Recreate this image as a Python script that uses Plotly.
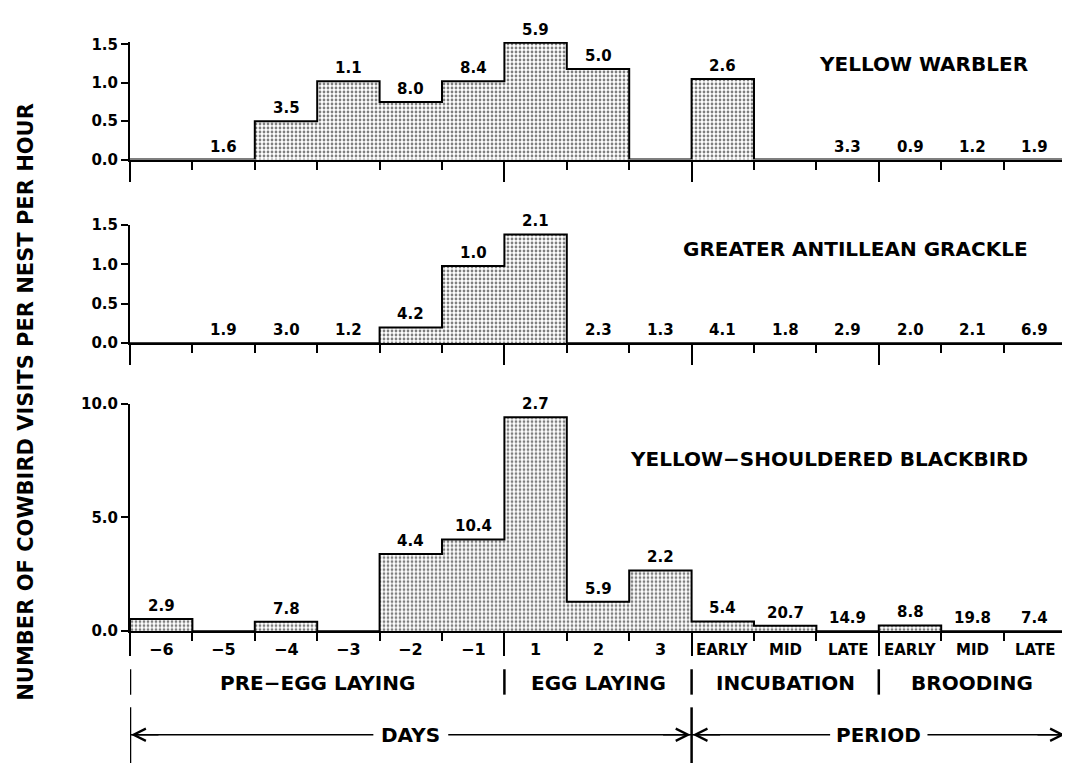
import plotly.graph_objects as go

# ---------------- data ----------------
day_labels = ["\u22126", "\u22125", "\u22124", "\u22123", "\u22122", "\u22121", "1", "2", "3",
              "EARLY", "MID", "LATE", "EARLY", "MID", "LATE"]
phase_labels = ["PRE\u2212EGG LAYING", "EGG LAYING", "INCUBATION", "BROODING"]
phase_bounds = [-0.5, 5.5, 8.5, 11.5, 14.5]
bracket_labels = ["DAYS", "PERIOD"]
bracket_bounds = [-0.5, 8.5, 14.5]

species = ["YELLOW WARBLER", "GREATER ANTILLEAN GRACKLE", "YELLOW\u2212SHOULDERED BLACKBIRD"]

warbler_rate = [0, 0, 0.50, 1.02, 0.75, 1.02, 1.52, 1.18, 0, 1.05, 0, 0, 0, 0, 0]
warbler_hours = ["", "1.6", "3.5", "1.1", "8.0", "8.4", "5.9", "5.0", "", "2.6", "", "3.3", "0.9", "1.2", "1.9"]

grackle_rate = [0, 0, 0, 0, 0.20, 0.98, 1.38, 0, 0, 0, 0, 0, 0, 0, 0]
grackle_hours = ["", "1.9", "3.0", "1.2", "4.2", "1.0", "2.1", "2.3", "1.3", "4.1", "1.8", "2.9", "2.0", "2.1", "6.9"]

blackbird_rate = [0.53, 0, 0.42, 0, 3.39, 4.03, 9.4, 1.29, 2.67, 0.43, 0.24, 0, 0.25, 0, 0]
blackbird_hours = ["2.9", "", "7.8", "", "4.4", "10.4", "2.7", "5.9", "2.2", "5.4", "20.7", "14.9", "8.8", "19.8", "7.4"]

y_ticks_small = [0, 0.5, 1.0, 1.5]
y_ticks_big = [0, 5, 10]

# ---------------- layout geometry ----------------
W, H = 1070, 764
FONT = "DejaVu Sans"
def py(p):  # pixel y -> paper
    return (H - p) / H

xdom = [122 / W, 1058 / W]
panels = [
    dict(rate=warbler_rate, hours=warbler_hours, dom=[py(146), py(146 - 1.53 * 78.7)],
         rng=[0, 1.53], ticks=y_ticks_small, fmt="{:.1f}", majlen=20, title_y=48),
    dict(rate=grackle_rate, hours=grackle_hours, dom=[py(334), py(213)],
         rng=[0, 1.5], ticks=y_ticks_small, fmt="{:.1f}", majlen=20, title_y=238),
    dict(rate=blackbird_rate, hours=blackbird_hours, dom=[py(629), py(396)],
         rng=[0, 10], ticks=y_ticks_big, fmt="{:.1f}", majlen=23, title_y=453),
]

fig = go.Figure()
annotations = []
shapes = []
n = len(day_labels)
xs = list(range(n))

for k, p in enumerate(panels):
    sfx = "" if k == 0 else str(k + 1)
    xa, ya = "x" + sfx, "y" + sfx
    fig.add_trace(go.Bar(
        x=xs, y=p["rate"], width=1, xaxis=xa, yaxis=ya,
        marker=dict(color="white",
                    pattern=dict(shape=".", fgcolor="black", bgcolor="white", size=4, solidity=0.38),
                    line=dict(width=0)),
        hoverinfo="skip", showlegend=False))
    # step outline from the data
    sx, sy = [-0.5], [0]
    for i, v in enumerate(p["rate"]):
        sx += [i - 0.5, i + 0.5]
        sy += [v, v]
    sx.append(n - 0.5)
    sy.append(0)
    fig.add_trace(go.Scatter(x=sx, y=sy, mode="lines", xaxis=xa, yaxis=ya,
                             line=dict(color="black", width=2), cliponaxis=False,
                             hoverinfo="skip", showlegend=False))
    for i, (v, lab) in enumerate(zip(p["rate"], p["hours"])):
        if lab:
            annotations.append(dict(x=i, y=v, xref=xa, yref=ya, text=lab, showarrow=False,
                                    yanchor="bottom", yshift=2,
                                    font=dict(family=FONT, size=15, weight="bold")))
    annotations.append(dict(x=1022 / W, y=py(p["title_y"]), xref="paper", yref="paper",
                            text=species[k], showarrow=False, xanchor="right", yanchor="middle",
                            font=dict(family=FONT, size=20, weight="bold")))
    xkey = "xaxis" + sfx
    ykey = "yaxis" + sfx
    fig.update_layout(**{
        xkey: dict(domain=xdom, range=[-0.5, n - 0.5], anchor=ya, showline=True, linewidth=2,
                   linecolor="black", showgrid=False, zeroline=False,
                   tickmode="array", tickvals=phase_bounds, showticklabels=False,
                   ticks="outside", ticklen=p["majlen"], tickwidth=2, tickcolor="black",
                   minor=dict(ticks="outside", ticklen=8, tickwidth=2, tickcolor="black",
                              tickmode="linear", tick0=0.5, dtick=1, showgrid=False),
                   fixedrange=True),
        ykey: dict(domain=p["dom"], range=p["rng"], anchor=xa, showline=True, linewidth=2,
                   linecolor="black", showgrid=False, zeroline=False,
                   tickmode="array", tickvals=p["ticks"],
                   ticktext=[p["fmt"].format(t) for t in p["ticks"]],
                   ticks="outside", ticklen=7, tickwidth=2, tickcolor="black",
                   tickfont=dict(family=FONT, size=15, weight="bold", color="black"),
                   fixedrange=True),
    })

# bottom category labels
for i, lab in enumerate(day_labels):
    annotations.append(dict(x=i, y=py(648), xref="x3", yref="paper", text=lab, showarrow=False,
                            yanchor="middle",
                            font=dict(family=FONT, size=15 if i >= 9 else 16, weight="bold")))
# phase labels + separators
for j, lab in enumerate(phase_labels):
    cx = (phase_bounds[j] + phase_bounds[j + 1]) / 2
    annotations.append(dict(x=cx, y=py(682), xref="x3", yref="paper", text=lab, showarrow=False,
                            yanchor="middle", font=dict(family=FONT, size=20, weight="bold")))
for b in phase_bounds:
    shapes.append(dict(type="line", xref="x3", yref="paper", x0=b, x1=b, y0=py(668), y1=py(694),
                       line=dict(color="black", width=2.5)))
# DAYS / PERIOD brackets
for b in bracket_bounds:
    shapes.append(dict(type="line", xref="x3", yref="paper", x0=b, x1=b, y0=py(707), y1=py(764),
                       line=dict(color="black", width=2.5)))
half_gap = [0.6, 0.78]
for j, lab in enumerate(bracket_labels):
    a, b = bracket_bounds[j], bracket_bounds[j + 1]
    cx = (a + b) / 2
    annotations.append(dict(x=cx, y=py(735), xref="x3", yref="paper", text=lab, showarrow=False,
                            yanchor="middle", font=dict(family=FONT, size=20, weight="bold")))
    shapes.append(dict(type="line", xref="x3", yref="paper", x0=a, x1=cx - half_gap[j],
                       y0=py(735), y1=py(735), line=dict(color="black", width=1.5)))
    shapes.append(dict(type="line", xref="x3", yref="paper", x0=cx + half_gap[j], x1=b,
                       y0=py(735), y1=py(735), line=dict(color="black", width=1.5)))
    for tip, off in ((a, 30), (b, -30)):
        annotations.append(dict(x=tip, y=py(735), xref="x3", yref="paper", text="",
                                showarrow=True, ax=off, ay=0, arrowhead=5, arrowsize=1.6,
                                arrowwidth=1.5, arrowcolor="black", standoff=1))

# y title
annotations.append(dict(x=18 / W, y=py(394), xref="paper", yref="paper",
                        text="NUMBER OF COWBIRD VISITS PER NEST PER HOUR", textangle=-90,
                        showarrow=False, xanchor="center", yanchor="middle",
                        font=dict(family=FONT, size=21, weight="bold")))

fig.update_layout(width=W, height=H, margin=dict(l=0, r=0, t=0, b=0),
                  paper_bgcolor="white", plot_bgcolor="white", showlegend=False,
                  bargap=0, annotations=annotations, shapes=shapes,
                  font=dict(family=FONT, size=15, color="black", weight="bold"))

fig.write_html("out.html")
